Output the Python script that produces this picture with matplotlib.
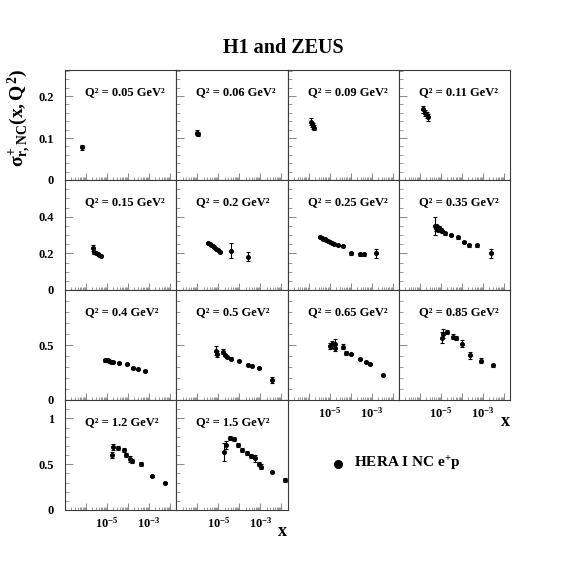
import matplotlib
matplotlib.use('Agg')
import matplotlib.pyplot as plt
import numpy as np
from matplotlib.ticker import FixedLocator, FuncFormatter, MultipleLocator, NullFormatter

plt.rcParams['font.family'] = ['Liberation Serif', 'DejaVu Serif']
plt.rcParams['font.weight'] = 'bold'
plt.rcParams['mathtext.fontset'] = 'custom'
plt.rcParams['mathtext.rm'] = 'Liberation Serif:bold'
plt.rcParams['mathtext.it'] = 'Liberation Serif:bold'
plt.rcParams['mathtext.bf'] = 'Liberation Serif:bold'

# ---------------- data ----------------
q2_labels = ['0.05', '0.06', '0.09', '0.11', '0.15', '0.2', '0.25', '0.35',
             '0.4', '0.5', '0.65', '0.85', '1.2', '1.5']

x_005 = [6.3e-7]
y_005 = [0.078]
e_005 = [0.006]

x_006 = [1.0e-6, 1.05e-6]
y_006 = [0.113, 0.109]
e_006 = [0.006, 0.005]

x_009 = [1.26e-6, 1.45e-6, 1.62e-6, 1.8e-6]
y_009 = [0.139, 0.133, 0.129, 0.125]
e_009 = [0.008, 0.006, 0.007, 0.007]

x_011 = [1.45e-6, 1.74e-6, 2.1e-6, 2.5e-6]
y_011 = [0.168, 0.160, 0.155, 0.149]
e_011 = [0.009, 0.007, 0.008, 0.008]

x_015 = [2.1e-6, 2.5e-6, 3.0e-6, 3.6e-6, 4.3e-6, 5.2e-6]
y_015 = [0.228, 0.205, 0.200, 0.196, 0.190, 0.187]
e_015 = [0.015, 0.008, 0.006, 0.006, 0.006, 0.006]

x_020 = [3.4e-6, 4.0e-6, 4.7e-6, 5.5e-6, 6.5e-6, 7.7e-6, 9.3e-6, 1.15e-5, 4.2e-5, 2.7e-4]
y_020 = [0.256, 0.250, 0.244, 0.238, 0.232, 0.226, 0.219, 0.210, 0.215, 0.182]
e_020 = [0.005, 0.005, 0.005, 0.005, 0.005, 0.005, 0.005, 0.005, 0.040, 0.025]

x_025 = [3.6e-6, 4.2e-6, 5.0e-6, 6.0e-6, 7.0e-6, 8.5e-6, 1.0e-5, 1.3e-5, 1.6e-5,
         2.5e-5, 4.3e-5, 1.1e-4, 2.7e-4, 4.4e-4, 1.7e-3]
y_025 = [0.287, 0.284, 0.280, 0.276, 0.272, 0.267, 0.262, 0.255, 0.250,
         0.245, 0.240, 0.200, 0.196, 0.196, 0.200]
e_025 = [0.006, 0.006, 0.006, 0.006, 0.006, 0.006, 0.006, 0.006, 0.006,
         0.007, 0.008, 0.008, 0.008, 0.008, 0.025]

x_035 = [5.2e-6, 5.8e-6, 6.5e-6, 7.5e-6, 8.5e-6, 1.0e-5, 1.2e-5, 1.6e-5, 3.1e-5,
         6.9e-5, 1.3e-4, 2.2e-4, 5.2e-4, 2.5e-3]
y_035 = [0.350, 0.340, 0.345, 0.330, 0.340, 0.330, 0.320, 0.310, 0.300,
         0.287, 0.263, 0.244, 0.244, 0.200]
e_035 = [0.050, 0.020, 0.012, 0.010, 0.010, 0.010, 0.008, 0.008, 0.008,
         0.008, 0.006, 0.008, 0.008, 0.025]

x_040 = [8.0e-6, 9.0e-6, 1.05e-5, 1.2e-5, 1.5e-5, 2.0e-5, 3.8e-5, 8.9e-5, 1.66e-4, 3.0e-4, 6.2e-4]
y_040 = [0.360, 0.365, 0.360, 0.355, 0.350, 0.345, 0.338, 0.325, 0.292, 0.282, 0.264]
e_040 = [0.012, 0.010, 0.010, 0.008, 0.008, 0.008, 0.008, 0.008, 0.008, 0.008, 0.008]

x_050 = [8.0e-6, 8.5e-6, 1.65e-5, 2.0e-5, 2.7e-5, 3.8e-5, 1.0e-4, 2.7e-4, 3.9e-4, 8.3e-4, 3.4e-3]
y_050 = [0.450, 0.420, 0.440, 0.408, 0.389, 0.377, 0.359, 0.319, 0.313, 0.294, 0.181]
e_050 = [0.040, 0.030, 0.020, 0.012, 0.010, 0.010, 0.008, 0.008, 0.008, 0.008, 0.025]

x_065 = [1.0e-5, 1.3e-5, 1.8e-5, 1.8e-5, 4.3e-5, 6.2e-5, 1.0e-4, 2.7e-4, 5.2e-4, 8.7e-4, 3.4e-3]
y_065 = [0.490, 0.506, 0.512, 0.476, 0.485, 0.430, 0.417, 0.371, 0.343, 0.325, 0.230]
e_065 = [0.030, 0.030, 0.040, 0.030, 0.020, 0.020, 0.010, 0.010, 0.010, 0.010, 0.008]

x_085 = [1.2e-5, 1.25e-5, 1.9e-5, 4.0e-5, 5.1e-5, 1.0e-4, 2.5e-4, 8.3e-4, 3.2e-3]
y_085 = [0.568, 0.604, 0.619, 0.577, 0.561, 0.512, 0.405, 0.359, 0.316]
e_085 = [0.050, 0.040, 0.020, 0.020, 0.020, 0.030, 0.030, 0.020, 0.015]

x_120 = [1.8e-5, 2.0e-5, 3.2e-5, 6.6e-5, 8.3e-5, 1.3e-4, 1.5e-4, 4.2e-4, 1.4e-3, 5.5e-3]
y_120 = [0.600, 0.690, 0.680, 0.655, 0.600, 0.555, 0.535, 0.500, 0.375, 0.300]
e_120 = [0.030, 0.030, 0.020, 0.020, 0.020, 0.030, 0.020, 0.020, 0.010, 0.010]

x_150 = [1.8e-5, 2.2e-5, 3.5e-5, 5.5e-5, 8.5e-5, 1.4e-4, 2.2e-4, 3.5e-4, 5.6e-4,
         8.7e-4, 1.1e-3, 3.5e-3, 1.5e-2]
y_150 = [0.636, 0.709, 0.782, 0.771, 0.709, 0.655, 0.625, 0.589, 0.564,
         0.499, 0.472, 0.411, 0.327]
e_150 = [0.100, 0.040, 0.020, 0.020, 0.020, 0.020, 0.020, 0.020, 0.040,
         0.020, 0.030, 0.010, 0.025]

panels_x = [x_005, x_006, x_009, x_011, x_015, x_020, x_025, x_035,
            x_040, x_050, x_065, x_085, x_120, x_150]
panels_y = [y_005, y_006, y_009, y_011, y_015, y_020, y_025, y_035,
            y_040, y_050, y_065, y_085, y_120, y_150]
panels_e = [e_005, e_006, e_009, e_011, e_015, e_020, e_025, e_035,
            e_040, e_050, e_065, e_085, e_120, e_150]

row_ymax = [0.262, 0.6, 1.0, 1.2]
row_major = [[0, 0.1, 0.2], [0, 0.2, 0.4], [0, 0.5, 1.0], [0, 0.5, 1.0]]
row_major_labels = [['0', '0.1', '0.2'], ['0', '0.2', '0.4'], ['0', '0.5', ''], ['0', '0.5', '1']]
row_minor = [0.02, 0.05, 0.1, 0.1]

x_decades = [1e-6, 1e-5, 1e-4, 1e-3, 1e-2]
x_labels = {1e-5: r'$10^{-5}$', 1e-3: r'$10^{-3}$'}

# ---------------- figure ----------------
W = 567
fig = plt.figure(figsize=(5.67, 5.67), dpi=100)
gs = fig.add_gridspec(4, 4, left=65 / W, right=510 / W, top=1 - 70 / W,
                      bottom=1 - 510 / W, hspace=0, wspace=0)

frame_col = '#3a3a3a'
tick_col = '#8a8a8a'

minor_x = [m * d for d in [1e-7, 1e-6, 1e-5, 1e-4, 1e-3, 1e-2] for m in range(2, 10)]

def xfmt(v, pos):
    for k, s in x_labels.items():
        if abs(np.log10(v) - np.log10(k)) < 1e-6:
            return s
    return ''

for i in range(14):
    r, c = divmod(i, 4)
    ax = fig.add_subplot(gs[r, c])
    ax.errorbar(panels_x[i], panels_y[i], yerr=panels_e[i], fmt='o', color='black',
                markersize=2.6, elinewidth=0.8, capsize=1.3, capthick=0.8)
    ax.set_xscale('log')
    ax.set_xlim(1e-7, 0.0195)
    ax.set_ylim(0, row_ymax[r])
    for sp in ax.spines.values():
        sp.set_color(frame_col)
        sp.set_linewidth(0.8)
    ax.xaxis.set_major_locator(FixedLocator(x_decades))
    ax.xaxis.set_minor_locator(FixedLocator(minor_x))
    ax.xaxis.set_minor_formatter(NullFormatter())
    show_x = (r == 3) or (r == 2 and c >= 2)
    if show_x:
        ax.xaxis.set_major_formatter(FuncFormatter(xfmt))
    else:
        ax.xaxis.set_major_formatter(NullFormatter())
    ax.yaxis.set_major_locator(FixedLocator(row_major[r]))
    ax.yaxis.set_minor_locator(MultipleLocator(row_minor[r]))
    if c == 0:
        ax.set_yticklabels(row_major_labels[r])
    else:
        ax.set_yticklabels([])
    ax.tick_params(axis='x', which='major', direction='in', length=5, width=0.7,
                   color=tick_col, labelsize=9, pad=4, top=False)
    ax.tick_params(axis='x', which='minor', direction='in', length=2.5, width=0.6,
                   color=tick_col, top=False)
    ax.tick_params(axis='y', which='major', direction='in', length=6, width=0.7,
                   color=tick_col, labelsize=9, pad=8, right=False)
    ax.tick_params(axis='y', which='minor', direction='in', length=3, width=0.6,
                   color=tick_col, right=False)
    for lab in ax.get_yticklabels() + ax.get_xticklabels():
        lab.set_fontweight('bold')
    ax.text(0.18, 0.80, 'Q² = ' + q2_labels[i] + ' GeV²', transform=ax.transAxes,
            fontsize=9, fontweight='bold', ha='left', va='center')

# title
fig.text(283 / W, 1 - 48 / W, 'H1 and ZEUS', ha='center', va='center',
         fontsize=14.5, fontweight='bold')
# y label
fig.text(20 / W, 1 - 118 / W, r'$\sigma^{+}_{r,NC}(x,Q^{2})$', rotation=90,
         ha='center', va='center', fontsize=14)
# x labels
fig.text(282 / W, 1 - 532 / W, 'x', ha='center', va='center', fontsize=13, fontweight='bold')
fig.text(505 / W, 1 - 422 / W, 'x', ha='center', va='center', fontsize=13, fontweight='bold')
# legend
leg_ax = fig.add_axes([0, 0, 1, 1], facecolor='none')
leg_ax.set_xlim(0, W)
leg_ax.set_ylim(W, 0)
leg_ax.axis('off')
leg_ax.plot([337.5], [464], 'o', color='black', markersize=5.5)
leg_ax.text(354, 464, 'HERA I NC e$^{+}$p', ha='left', va='center',
            fontsize=11, fontweight='bold')

fig.savefig('out.png', dpi=100)
